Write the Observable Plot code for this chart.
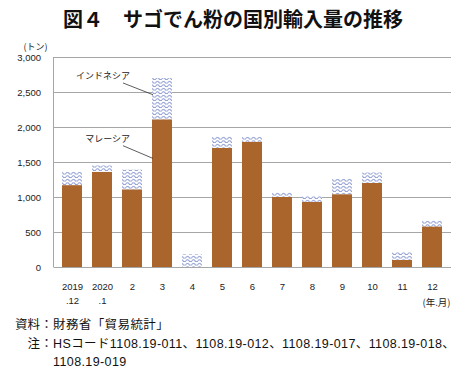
<!DOCTYPE html>
<html><head><meta charset="utf-8">
<script src="https://cdn.jsdelivr.net/npm/d3@7"></script>
<script src="https://cdn.jsdelivr.net/npm/@observablehq/plot@0.6"></script>
<style>
body{margin:0;background:#fff;width:459px;height:377px;overflow:hidden;font-family:"Liberation Sans","Noto Sans CJK JP",sans-serif;color:#222}
#title{height:31px;box-sizing:border-box;padding-top:7px;padding-left:7px;line-height:24px;font-size:20px;font-weight:bold;text-align:center;font-family:"Noto Sans CJK JP",sans-serif;color:#111;white-space:nowrap}
#chart svg{display:block}
#cap{font-size:12.5px;line-height:18.5px;letter-spacing:0.4px;color:#111;margin-top:-2px;white-space:nowrap}
.row{display:flex}
.lab{flex:none;width:40px;text-align:right;letter-spacing:0}
.col{flex:none;width:13px;text-align:center;letter-spacing:0}
.txt{flex:none}
</style></head>
<body>
<div id="title">図４　サゴでん粉の国別輸入量の推移</div>
<div id="chart"></div>
<div id="cap">
<div class="row"><span class="lab">資料</span><span class="col">：</span><span class="txt">財務省「貿易統計」</span></div>
<div class="row"><span class="lab">注</span><span class="col">：</span><span class="txt">HSコード1108.19-011、1108.19-012、1108.19-017、1108.19-018、</span></div>
<div class="row"><span class="lab"></span><span class="col"></span><span class="txt">1108.19-019</span></div>
</div>
<script>
const months = ["2019.12","2020.1","2","3","4","5","6","7","8","9","10","11","12"];
const xTickLabels = ["2019\n.12","2020\n.1","2","3","4","5","6","7","8","9","10","11","12"];
const malaysia = [1170,1360,1110,2110,0,1700,1790,1000,930,1040,1200,100,580];
const indonesia = [190,90,280,590,180,170,70,70,80,220,150,110,90];
const yTicks = [0,500,1000,1500,2000,2500,3000];
const annText = ["インドネシア","マレーシア"];
const annTextY = [2737,1837];
const annLineFromY = [2629,1733];
const annLineToY = [2461,1551];
const annTextAt = "2";
const annTarget = "3";
const yUnit = "(トン)";
const xUnit = "(年.月)";

const data = months.map((m,i)=>({month:m, malaysia:malaysia[i], indonesia:indonesia[i], total:malaysia[i]+indonesia[i]}));
const labelOf = new Map(months.map((m,i)=>[m, xTickLabels[i]]));
const ann = annText.map((t,i)=>({label:t, x:annTextAt, y:annTextY[i]}));

const chart = Plot.plot({
  width:459, height:287,
  marginTop:26, marginBottom:51, marginLeft:53.5, marginRight:8,
  style:{fontFamily:"'Liberation Sans','Noto Sans CJK JP',sans-serif", fontSize:"9.5px", color:"#222", background:"white"},
  x:{domain:months, paddingInner:0.34, paddingOuter:0.17, axis:null},
  y:{domain:[0,3000], axis:null},
  marks:[
    Plot.ruleY(yTicks, {stroke:"#a6a6a6", strokeWidth:1}),
    Plot.barY(data, {x:"month", y1:0, y2:"malaysia", fill:"#a9652b"}),
    Plot.barY(data, {x:"month", y1:"malaysia", y2:"total", fill:"url(#wave)"}),
    Plot.axisY({ticks:yTicks, tickSize:0, tickPadding:13, tickFormat:d3.format(",")}),
    Plot.axisX({tickSize:0, tickPadding:12, tickFormat:d=>labelOf.get(d), lineHeight:1.52}),
    Plot.text(ann, {x:"x", y:"y", text:"label", textAnchor:"end", dx:-2.5, fontSize:9, fontFamily:"'Noto Sans CJK JP',sans-serif"}),
    Plot.text([yUnit], {frameAnchor:"top-left", text:d=>d, dx:-18.5, dy:-14, textAnchor:"middle", fontSize:9, fontFamily:"'Noto Sans CJK JP',sans-serif"}),
    Plot.text([xUnit], {frameAnchor:"bottom-right", text:d=>d, dx:-15, dy:38, textAnchor:"middle", fontSize:9.5, fontFamily:"'Noto Sans CJK JP',sans-serif"})
  ]
});
document.getElementById("chart").appendChild(chart);

const svg = d3.select(chart);
const defs = svg.insert("defs", ":first-child");
const pat = defs.append("pattern").attr("id","wave").attr("patternUnits","userSpaceOnUse").attr("width",6).attr("height",3.5);
pat.append("rect").attr("width",6).attr("height",3.5).attr("fill","white");
pat.append("path").attr("d","M0,2.3 Q1.5,0.5 3,2.3 T6,2.3").attr("fill","none").attr("stroke","#7f8fcc").attr("stroke-width",0.9);

const xs = chart.scale("x"), ys = chart.scale("y");
const g = svg.append("g");
g.append("line").attr("x1",xs.range[0]).attr("x2",xs.range[0])
  .attr("y1",ys.apply(yTicks[yTicks.length-1])).attr("y2",ys.apply(0))
  .attr("stroke","#a6a6a6").attr("stroke-width",1);
annText.forEach((t,i)=>{
  g.append("line")
    .attr("x1", xs.apply(annTextAt) + xs.bandwidth/2 - 9)
    .attr("x2", xs.apply(annTarget) + 1)
    .attr("y1", ys.apply(annLineFromY[i]))
    .attr("y2", ys.apply(annLineToY[i]))
    .attr("stroke","#333").attr("stroke-width",0.8);
});
</script>
</body></html>
